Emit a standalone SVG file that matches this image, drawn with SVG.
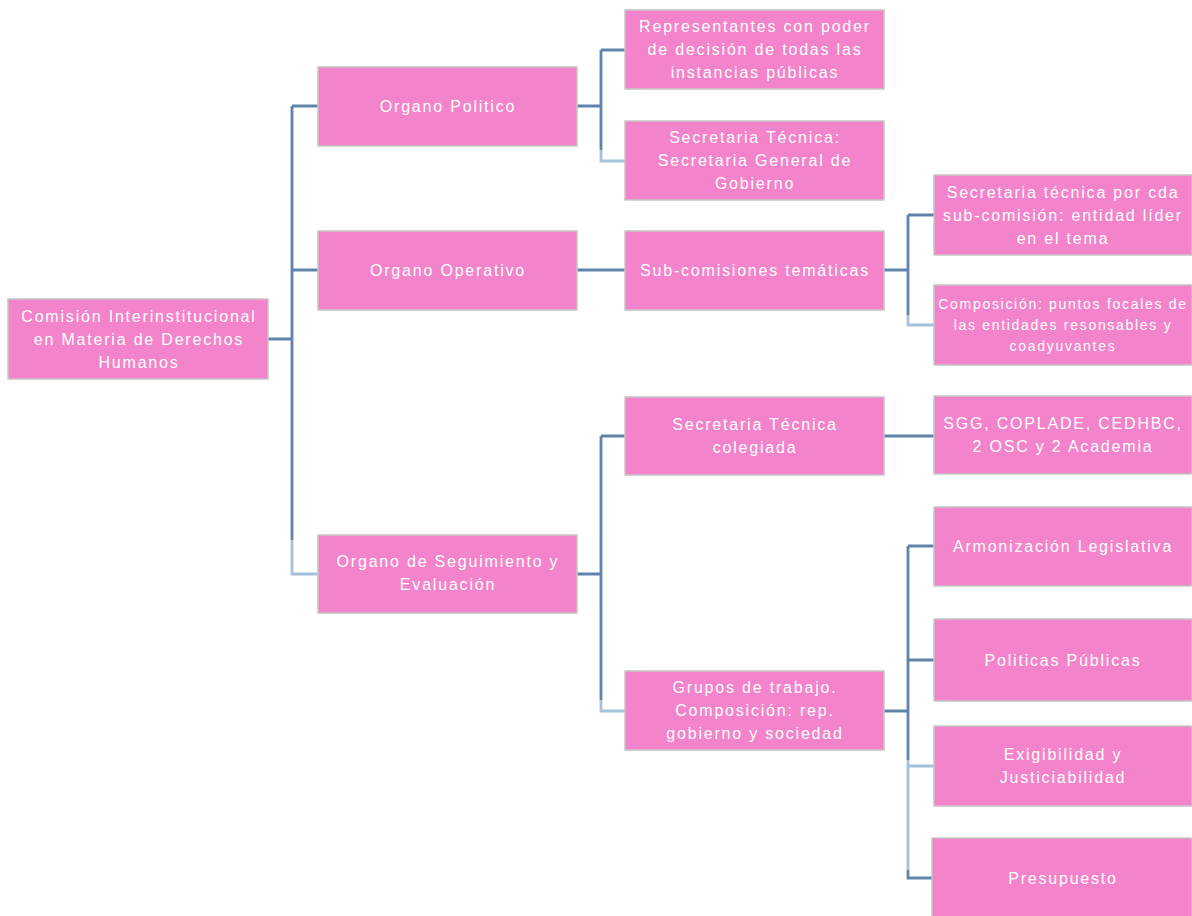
<svg xmlns="http://www.w3.org/2000/svg" width="1192" height="916" viewBox="0 0 1192 916">
<style>
.box{fill:#F383CA;stroke:#C6C6C6;stroke-width:1.5}
.t{font-family:"Liberation Sans",Arial,sans-serif;font-size:16px;fill:#FFFFFF;text-anchor:middle;letter-spacing:1.8px}
.s{font-size:14px;letter-spacing:1.7px}
.c{fill:none;stroke:#5F83AB;stroke-width:2.8}
.l{fill:none;stroke:#A5C2DC;stroke-width:2.8}
</style>
<rect width="1192" height="916" fill="#FFFFFF"/>
<g id="connectors">
<path class="c" d="M268 339 H292 M292 106 V540 M292 106 H318 M292 270 H318"/>
<path class="l" d="M292 540 V574 H318"/>
<path class="c" d="M577 106 H601 M601 50 V150 M601 50 H625"/>
<path class="l" d="M601 150 V161 H625"/>
<path class="c" d="M577 270 H625"/>
<path class="c" d="M884 270 H908 M908 215 V315 M908 215 H934"/>
<path class="l" d="M908 315 V325 H934"/>
<path class="c" d="M577 574 H601 M601 436 V700 M601 436 H625"/>
<path class="l" d="M601 700 V711 H625"/>
<path class="c" d="M884 436 H934"/>
<path class="c" d="M884 711 H908 M908 546 V760 M908 546 H934 M908 660 H934"/>
<path class="l" d="M908 760 V870 M908 766 H934"/>
<path class="c" d="M908 870 V878 H934"/>
</g>
<g id="n-root"><rect class="box" x="8" y="299" width="260" height="80"/>
<text class="t" x="139" y="321.5">Comisión Interinstitucional</text>
<text class="t" x="139" y="344.5">en Materia de Derechos</text>
<text class="t" x="139" y="367.5">Humanos</text></g>
<g id="n-politico"><rect class="box" x="318" y="67" width="259" height="79"/>
<text class="t" x="448" y="111.5">Organo Politico</text></g>
<g id="n-operativo"><rect class="box" x="318" y="231" width="259" height="79"/>
<text class="t" x="448" y="275.5">Organo Operativo</text></g>
<g id="n-seguimiento"><rect class="box" x="318" y="535" width="259" height="78"/>
<text class="t" x="448" y="567">Organo de Seguimiento y</text>
<text class="t" x="448" y="590">Evaluación</text></g>
<g id="n-representantes"><rect class="box" x="625" y="10" width="259" height="79"/>
<text class="t" x="755" y="32">Representantes con poder</text>
<text class="t" x="755" y="55">de decisión de todas las</text>
<text class="t" x="755" y="78">instancias públicas</text></g>
<g id="n-sectec"><rect class="box" x="625" y="121" width="259" height="79"/>
<text class="t" x="755" y="143">Secretaria Técnica:</text>
<text class="t" x="755" y="166">Secretaria General de</text>
<text class="t" x="755" y="189">Gobierno</text></g>
<g id="n-subcom"><rect class="box" x="625" y="231" width="259" height="79"/>
<text class="t" x="755" y="275.5">Sub-comisiones temáticas</text></g>
<g id="n-colegiada"><rect class="box" x="625" y="397" width="259" height="78"/>
<text class="t" x="755" y="430">Secretaria Técnica</text>
<text class="t" x="755" y="453">colegiada</text></g>
<g id="n-grupos"><rect class="box" x="625" y="671" width="259" height="79"/>
<text class="t" x="755" y="693">Grupos de trabajo.</text>
<text class="t" x="755" y="716">Composición: rep.</text>
<text class="t" x="755" y="739">gobierno y sociedad</text></g>
<g id="n-sectecsub"><rect class="box" x="934" y="175" width="258" height="80"/>
<text class="t" x="1063" y="197.5">Secretaria técnica por cda</text>
<text class="t" x="1063" y="220.5">sub-comisión: entidad líder</text>
<text class="t" x="1063" y="243.5">en el tema</text></g>
<g id="n-composicion"><rect class="box" x="934" y="285" width="258" height="80"/>
<text class="t s" x="1063" y="309">Composición: puntos focales de</text>
<text class="t s" x="1063" y="330">las entidades resonsables y</text>
<text class="t s" x="1063" y="351">coadyuvantes</text></g>
<g id="n-sgg"><rect class="box" x="934" y="396" width="258" height="78"/>
<text class="t" x="1063" y="429">SGG, COPLADE, CEDHBC,</text>
<text class="t" x="1063" y="452">2 OSC y 2 Academia</text></g>
<g id="n-armonizacion"><rect class="box" x="934" y="507" width="258" height="79"/>
<text class="t" x="1063" y="551.5">Armonización Legislativa</text></g>
<g id="n-politicas"><rect class="box" x="934" y="619" width="258" height="82"/>
<text class="t" x="1063" y="665.5">Politicas Públicas</text></g>
<g id="n-exigibilidad"><rect class="box" x="934" y="726" width="258" height="80"/>
<text class="t" x="1063" y="760">Exigibilidad y</text>
<text class="t" x="1063" y="783">Justiciabilidad</text></g>
<g id="n-presupuesto"><rect class="box" x="932" y="838" width="260" height="80"/>
<text class="t" x="1063" y="883.5">Presupuesto</text></g>
</svg>
